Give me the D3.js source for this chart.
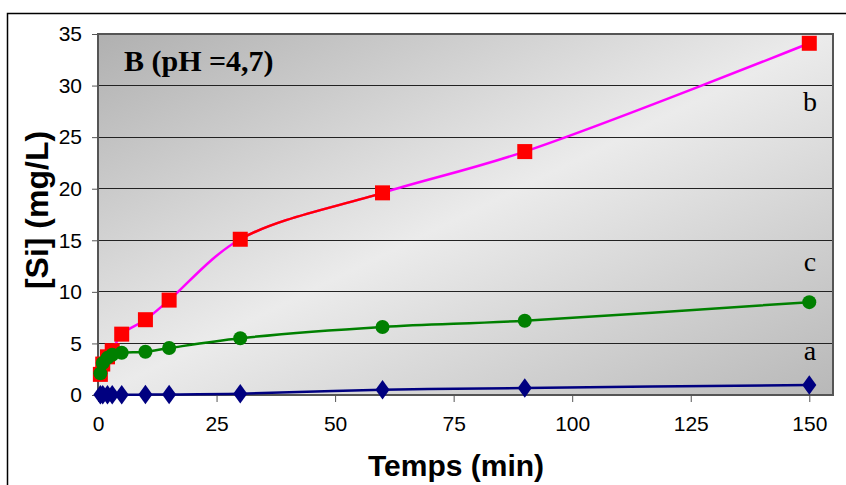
<!DOCTYPE html>
<html><head><meta charset="utf-8">
<script src="https://cdn.jsdelivr.net/npm/d3@7"></script>
<style>
html,body{margin:0;padding:0;background:#fff;}
svg{display:block;}
</style></head>
<body>
<svg id="chart" width="846" height="485"></svg>
<script>
// ---- data ----
const times = [0.5, 1, 2, 3, 5, 10, 15, 30, 60, 90, 150];
const seriesA = [0.02, 0.02, 0.03, 0.03, 0.03, 0.04, 0.05, 0.12, 0.5, 0.68, 0.97];
const seriesB = [2.0, 3.0, 3.7, 4.3, 5.9, 7.3, 9.2, 15.1, 19.6, 23.6, 34.1];
const seriesC = [2.1, 3.1, 3.6, 3.9, 4.1, 4.2, 4.55, 5.5, 6.6, 7.2, 9.0];
const xTicks = [0, 25, 50, 75, 100, 125, 150];
const yTicks = [0, 5, 10, 15, 20, 25, 30, 35];
const seriesLabels = [{t:"b", v:27.5}, {t:"c", v:12.0}, {t:"a", v:3.4}];

const svg = d3.select("#chart");
const L = 98, R = 833, T = 34, B = 395;
const x = d3.scaleLinear().domain([0, 155]).range([L, R]);
const y = d3.scaleLinear().domain([0, 35]).range([B, T]);

// outer frame
svg.append("path").attr("d", "M7.5,486 L7.5,13.5 L847,13.5")
  .attr("fill", "none").attr("stroke", "#000").attr("stroke-width", 1.5);

// background gradient
const defs = svg.append("defs");
const g = defs.append("linearGradient").attr("id", "bg")
  .attr("x1", 0).attr("y1", 0).attr("x2", 1).attr("y2", 1);
g.append("stop").attr("offset", 0).attr("stop-color", "#b0b0b0");
g.append("stop").attr("offset", 0.5).attr("stop-color", "#ebebeb");
g.append("stop").attr("offset", 1).attr("stop-color", "#b8b8b8");
defs.append("clipPath").attr("id", "redclip").append("rect")
  .attr("x", x(30)).attr("y", T).attr("width", x(60) - x(30)).attr("height", B - T);

svg.append("rect").attr("x", L).attr("y", T).attr("width", R - L).attr("height", B - T)
  .attr("fill", "url(#bg)");

// gridlines
svg.append("g").selectAll("line").data(yTicks.filter(v => v > 0)).join("line")
  .attr("x1", L).attr("x2", R).attr("y1", d => y(d)).attr("y2", d => y(d))
  .attr("stroke", "#222").attr("stroke-width", 1).attr("shape-rendering", "crispEdges");

// plot border
svg.append("rect").attr("x", L).attr("y", T).attr("width", R - L).attr("height", B - T)
  .attr("fill", "none").attr("stroke", "#555").attr("stroke-width", 1.2).attr("shape-rendering", "crispEdges");

// axes
const yAxis = d3.axisLeft(y).tickValues(yTicks).tickSize(6).tickPadding(10);
const xAxis = d3.axisBottom(x).tickValues(xTicks).tickSize(7).tickPadding(14);
const ga = svg.append("g").attr("transform", `translate(${L},0)`).call(yAxis);
const gx = svg.append("g").attr("transform", `translate(0,${B})`).call(xAxis);
[ga, gx].forEach(a => {
  a.select(".domain").remove();
  a.selectAll(".tick line").attr("stroke", "#555");
  a.selectAll("text").attr("font-family", "Liberation Sans, Arial, sans-serif")
    .attr("font-size", 21).attr("fill", "#000");
});

// axis titles
svg.append("text").attr("x", 456).attr("y", 476).attr("text-anchor", "middle")
  .attr("font-family", "Liberation Sans, Arial, sans-serif").attr("font-weight", "bold")
  .attr("font-size", 30).text("Temps (min)");
svg.append("text").attr("transform", "translate(48,210) rotate(-90)").attr("text-anchor", "middle")
  .attr("font-family", "Liberation Sans, Arial, sans-serif").attr("font-weight", "bold")
  .attr("font-size", 32).text("[Si] (mg/L)");

// title
svg.append("text").attr("x", 124).attr("y", 71)
  .attr("font-family", "Liberation Serif, Times New Roman, serif").attr("font-weight", "bold")
  .attr("font-size", 30).text("B (pH =4,7)");

// lines
const line = (vals) => d3.line().x((d, i) => x(times[i])).y(d => y(d))
  .curve(d3.curveCatmullRom.alpha(0.5))(vals);

svg.append("path").attr("d", line(seriesA)).attr("fill", "none").attr("stroke", "#000080").attr("stroke-width", 2.5);
svg.append("path").attr("d", line(seriesC)).attr("fill", "none").attr("stroke", "#008000").attr("stroke-width", 2.5);
svg.append("path").attr("d", line(seriesB)).attr("fill", "none").attr("stroke", "#ff00ff").attr("stroke-width", 2.5);
svg.append("path").attr("d", line(seriesB)).attr("fill", "none").attr("stroke", "#ff0000").attr("stroke-width", 2.5)
  .attr("clip-path", "url(#redclip)");

// markers
const sq = 15;
svg.append("g").selectAll("rect").data(seriesB).join("rect")
  .attr("x", (d, i) => x(times[i]) - sq / 2).attr("y", d => y(d) - sq / 2)
  .attr("width", sq).attr("height", sq).attr("fill", "#ff0000");
svg.append("g").selectAll("circle").data(seriesC).join("circle")
  .attr("cx", (d, i) => x(times[i])).attr("cy", d => y(d)).attr("r", 7).attr("fill", "#008000");
const diamond = d3.symbol().type(d3.symbolDiamond).size(110);
svg.append("g").selectAll("path").data(seriesA).join("path")
  .attr("transform", (d, i) => `translate(${x(times[i])},${y(d)}) scale(1.25,1)`)
  .attr("d", diamond).attr("fill", "#000080");

// series labels
svg.append("g").selectAll("text").data(seriesLabels).join("text")
  .attr("x", 810).attr("y", d => y(d.v)).attr("text-anchor", "middle")
  .attr("font-family", "Liberation Serif, Times New Roman, serif")
  .attr("font-size", 28).text(d => d.t);
</script>
</body></html>
